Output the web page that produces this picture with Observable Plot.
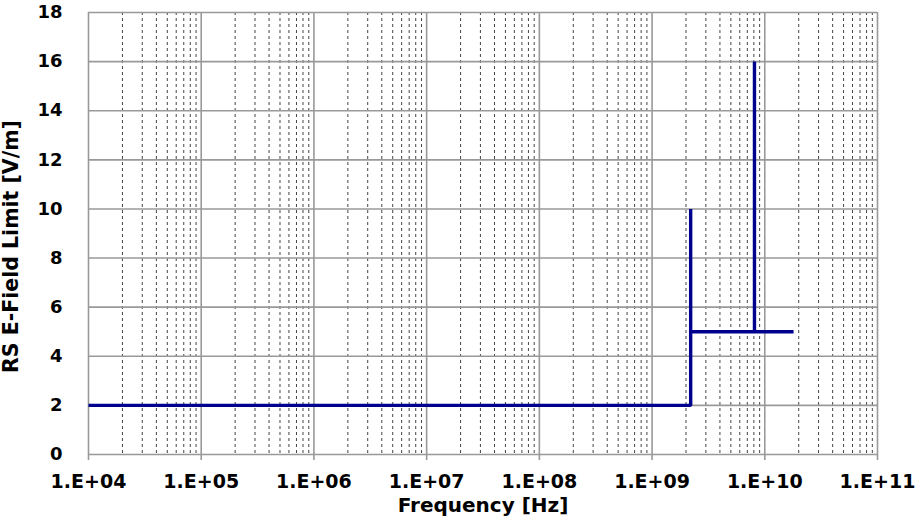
<!DOCTYPE html>
<html>
<head>
<meta charset="utf-8">
<script src="https://cdn.jsdelivr.net/npm/d3@7"></script>
<script src="https://cdn.jsdelivr.net/npm/@observablehq/plot@0.6"></script>
<style>
  html, body { margin: 0; padding: 0; background: #fff; }
</style>
</head>
<body>
<div id="chart"></div>
<script>
// Limit curve (step shape)
const frequency = [1e4, 2.2e9, 2.2e9, 2.2e9, 8.1e9, 8.1e9, 8.1e9, 1.8e10];
const limit     = [2,   2,     10,    5,     5,     16,    5,     5];

// Axis ticks
const xMajor = [1e4, 1e5, 1e6, 1e7, 1e8, 1e9, 1e10, 1e11];
const xMinorMultipliers = [2, 3, 4, 5, 6, 7, 8, 9];
const yTicks = [0, 2, 4, 6, 8, 10, 12, 14, 16, 18];

const data = frequency.map((f, i) => ({f, v: limit[i]}));
const xMinor = xMajor.slice(0, -1).flatMap(d => xMinorMultipliers.map(m => d * m));

const fmtX = d => "1.E+" + String(Math.round(Math.log10(d))).padStart(2, "0");

const chart = Plot.plot({
  width: 915,
  height: 528,
  marginLeft: 88,
  marginRight: 38,
  marginTop: 12,
  marginBottom: 74,
  style: {fontFamily: "DejaVu Sans", fontWeight: "bold", color: "#000", background: "#fff"},
  x: {type: "log", domain: [1e4, 1e11]},
  y: {domain: [0, 18]},
  marks: [
    Plot.ruleX(xMinor, {stroke: "#444", strokeWidth: 1, strokeDasharray: "3,3"}),
    Plot.ruleX(xMajor, {stroke: "#999", strokeWidth: 1.6}),
    Plot.ruleY(yTicks, {stroke: "#999", strokeWidth: 1.6}),
    Plot.axisX({ticks: xMajor, tickFormat: fmtX, tickSize: 6, tickPadding: 14, stroke: "#999", strokeWidth: 1.6, fontSize: 19, label: null}),
    Plot.axisY({ticks: yTicks, tickSize: 0, tickPadding: 26, fontSize: 18, label: null}),
    Plot.line(data, {x: "f", y: "v", stroke: "#00008e", strokeWidth: 3.4, strokeLinejoin: "miter", strokeLinecap: "butt"}),
    Plot.text(["Frequency [Hz]"], {frameAnchor: "bottom", dy: 57, fontSize: 20, fontWeight: "bold", fill: "#000"}),
    Plot.text(["RS E-Field Limit [V/m]"], {frameAnchor: "left", textAnchor: "middle", lineAnchor: "middle", dx: -77, dy: 13, rotate: -90, fontSize: 20.5, fontWeight: "bold", fill: "#000"})
  ]
});
document.getElementById("chart").appendChild(chart);
</script>
</body>
</html>
